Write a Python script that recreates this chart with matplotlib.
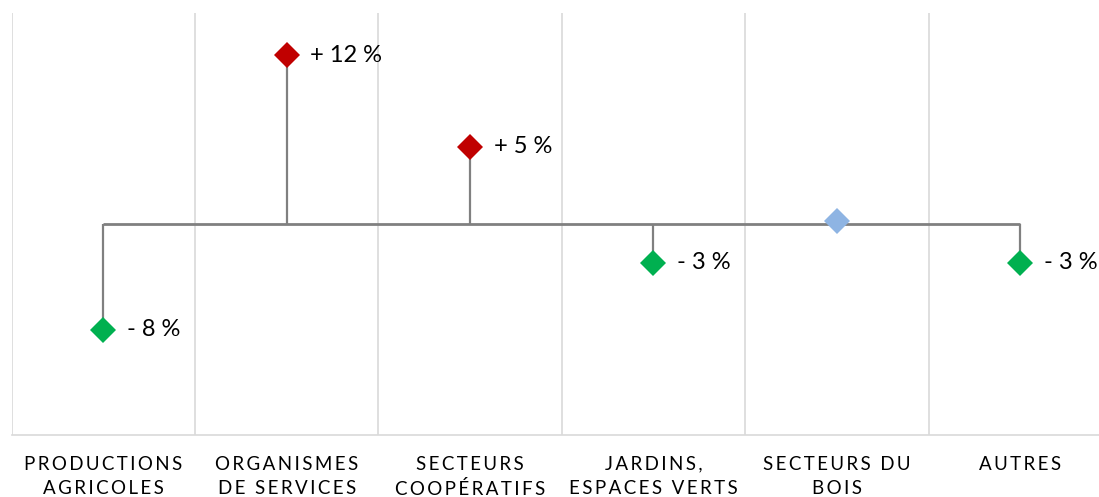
import matplotlib
matplotlib.use("Agg")
import matplotlib.pyplot as plt

# categories and values (percent change)
categories = [
    "PRODUCTIONS\nAGRICOLES",
    "ORGANISMES\nDE SERVICES",
    "SECTEURS\nCOOPÉRATIFS",
    "JARDINS,\nESPACES VERTS",
    "SECTEURS DU\nBOIS",
    "AUTRES",
]
values = [-7.5, 12.0, 5.5, -2.75, 0.2, -2.75]
value_labels = ["- 8 %", "+ 12 %", "+ 5 %", "- 3 %", "", "- 3 %"]

FONT = ["Lato", "DejaVu Sans"]
RED = "#c00000"
GREEN = "#00b050"
BLUE = "#8eb4e3"
STEM = "#808080"
GRID = "#d9d9d9"


def letter_spaced(text: str) -> str:
    return "\n".join("\u2009".join(line) for line in text.split("\n"))


def point_color(value: float) -> str:
    if value >= 1:
        return RED
    if value <= -1:
        return GREEN
    return BLUE


fig = plt.figure(figsize=(10.99, 4.97), dpi=100)
ax = fig.add_axes([11.5 / 1099, 62 / 497, 1100.5 / 1099, 422 / 497])

n = len(categories)
positions = list(range(n))
ax.set_xlim(-0.5, n - 0.5)
ax.set_ylim(-15, 15)

for boundary in range(n + 1):
    ax.axvline(boundary - 0.5, color=GRID, linewidth=1.2, zorder=1)

ax.hlines(0, positions[0], positions[-1], color=STEM, linewidth=2.0, zorder=2)
for x, value in zip(positions, values):
    if abs(value) >= 1:
        ax.vlines(x, 0, value, color=STEM, linewidth=1.6, zorder=2)
    ax.plot(x, value, marker="D", markersize=13, color=point_color(value),
            markeredgewidth=0, linestyle="none", zorder=3)

for x, value, label in zip(positions, values, value_labels):
    if label:
        ax.annotate(label, (x, value), xytext=(17, 0), textcoords="offset points",
                    ha="left", va="center", fontsize=17, family=FONT, color="#000000")

for spine in ["top", "left", "right"]:
    ax.spines[spine].set_visible(False)
ax.spines["bottom"].set_color(GRID)
ax.spines["bottom"].set_linewidth(1.2)
ax.set_yticks([])
ax.set_xticks(positions)
ax.set_xticklabels([letter_spaced(c) for c in categories], fontsize=13.5,
                   family=FONT, color="#000000", linespacing=1.5)
ax.tick_params(axis="x", length=0, pad=15)

fig.savefig("out.png", dpi=100)
plt.close(fig)
